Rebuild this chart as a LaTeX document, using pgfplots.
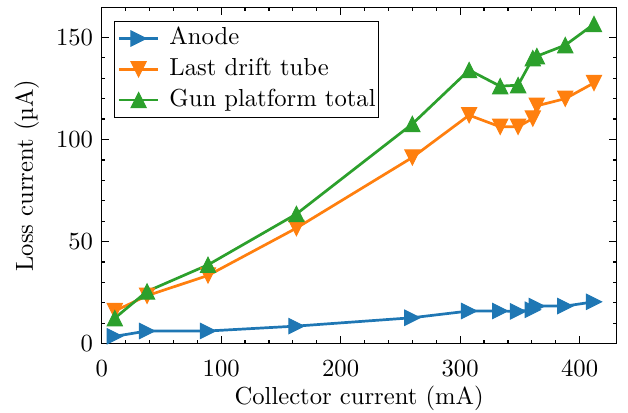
\documentclass[border=0pt]{standalone}
\usepackage{pgfplots}
\pgfplotsset{compat=1.18}
\definecolor{c1}{HTML}{1F77B4}
\definecolor{c2}{HTML}{FF7F0E}
\definecolor{c3}{HTML}{2CA02C}
\pgfdeclareplotmark{mtriup}{%
  \pgfpathmoveto{\pgfpoint{0pt}{\pgfplotmarksize}}%
  \pgfpathlineto{\pgfpoint{-\pgfplotmarksize}{-\pgfplotmarksize}}%
  \pgfpathlineto{\pgfpoint{\pgfplotmarksize}{-\pgfplotmarksize}}%
  \pgfpathclose\pgfusepathqfillstroke}
\pgfdeclareplotmark{mtridown}{%
  \pgfpathmoveto{\pgfpoint{0pt}{-\pgfplotmarksize}}%
  \pgfpathlineto{\pgfpoint{-\pgfplotmarksize}{\pgfplotmarksize}}%
  \pgfpathlineto{\pgfpoint{\pgfplotmarksize}{\pgfplotmarksize}}%
  \pgfpathclose\pgfusepathqfillstroke}
\pgfdeclareplotmark{mtriright}{%
  \pgfpathmoveto{\pgfpoint{\pgfplotmarksize}{0pt}}%
  \pgfpathlineto{\pgfpoint{-\pgfplotmarksize}{\pgfplotmarksize}}%
  \pgfpathlineto{\pgfpoint{-\pgfplotmarksize}{-\pgfplotmarksize}}%
  \pgfpathclose\pgfusepathqfillstroke}

\pgfplotstableread{
x y
11 3.6
38 6.2
89 6.2
163 8.6
260 12.7
307.5 16.0
333.5 16.0
348.5 15.8
360.8 16.6
364.2 18.4
388 18.4
412 20.5
}\anode
\pgfplotstableread{
x y
11 16.0
38 23.5
89 33.4
163 56.6
260 91.2
307.5 111.9
333.5 106.2
348.5 106.2
360.8 110.3
364.2 116.5
388 120.0
412 127.7
}\drift
\pgfplotstableread{
x y
11 12.5
38 25.6
89 38.6
163 63.5
260 107.6
307.5 134.0
333.5 126.1
348.5 126.6
360.8 139.8
364.2 140.8
388 146.2
412 156.5
}\gun

\begin{document}
\begin{tikzpicture}
\begin{axis}[
  scale only axis,
  width=209.2pt, height=136.6pt,
  xmin=0, xmax=431, ymin=0, ymax=164.7,
  xtick={0,100,200,300,400},
  ytick={0,50,100,150},
  minor x tick num=4, minor y tick num=4,
  tick align=inside,
  xtick pos=both, ytick pos=both,
  major tick length=3pt, minor tick length=1.5pt,
  every tick/.style={black, line width=0.5pt},
  axis line style={line width=0.5pt},
  xticklabel style={yshift=-3.5pt},
  xlabel={Collector current (mA)},
  xlabel style={yshift=3pt},
  ylabel={Loss current (\textmu A)},
  legend cell align=left,
  legend style={at={(0,1)}, anchor=north west, xshift=5pt, yshift=-5.4pt,
    draw=black, line width=0.5pt, fill=white,
    inner xsep=1.2pt, inner ysep=2.5pt,
    row sep=3.5pt, column sep=4pt,
    nodes={inner sep=0pt, text height=7pt, text depth=2pt}},
  legend image code/.code={\draw[mark repeat=2,mark phase=2] plot coordinates {(0pt,0pt) (8pt,0pt) (16pt,0pt)};},
  every axis plot/.append style={line width=1.1pt, mark size=3.1pt, mark options={solid, line width=0.4pt}},
]
\coordinate (SW) at (rel axis cs:0,0);
\coordinate (NE) at (rel axis cs:1,1);
\addplot[color=c1, mark=mtriright] table {\anode};
\addlegendentry{Anode}
\addplot[color=c2, mark=mtridown] table {\drift};
\addlegendentry{Last drift tube}
\addplot[color=c3, mark=mtriup] table {\gun};
\addlegendentry{Gun platform total}
\end{axis}
\pgfresetboundingbox
\useasboundingbox ([shift={(-41.3pt,-27.9pt)}]SW) rectangle ([shift={(4.6pt,3.0pt)}]NE);
\end{tikzpicture}
\end{document}
